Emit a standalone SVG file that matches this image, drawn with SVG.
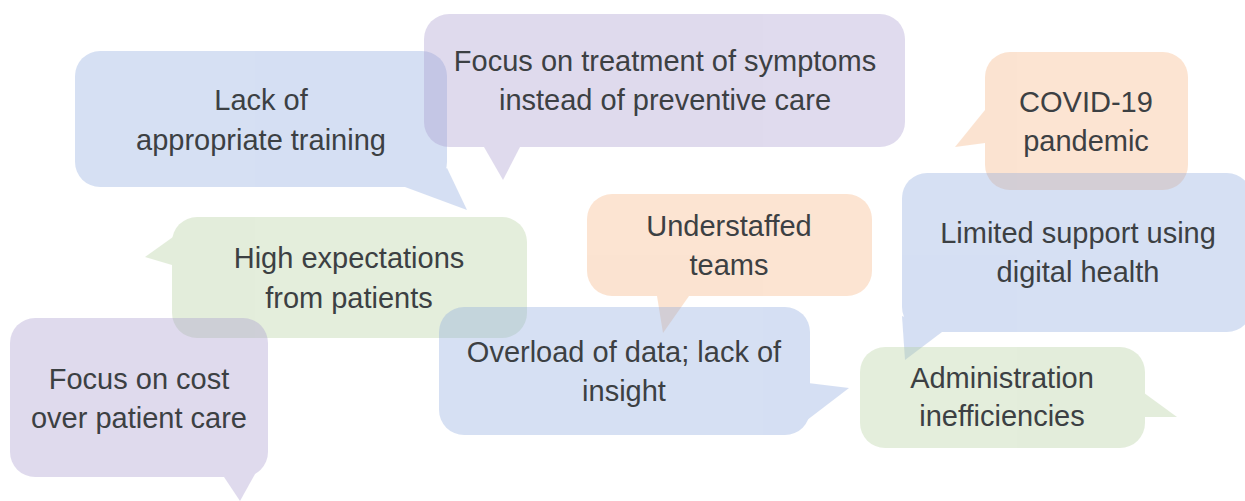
<svg xmlns="http://www.w3.org/2000/svg" width="1245" height="501" viewBox="0 0 1245 501">
<style>
  .b { opacity: 0.35; }
  .blue { fill: #8aa6dd; }
  .purple { fill: #a698ce; }
  .green { fill: #b2ce9b; }
  .orange { fill: #f6b27e; }
  text { font-family: "Liberation Sans", Arial, sans-serif; font-size: 29px; fill: #3c4043; text-anchor: middle; }
</style>
<rect width="1245" height="501" fill="#ffffff"/>
<g id="connectors"></g>

<g id="node-training">
  <g class="b blue"><rect x="75" y="51" width="372" height="136" rx="25"/><polygon points="405,187 467,210 447,168"/></g>
  <text x="261" y="110">Lack of</text>
  <text x="261" y="150">appropriate training</text>
</g>

<g id="node-symptoms">
  <g class="b purple"><rect x="424" y="14" width="481" height="133" rx="25"/><polygon points="484,147 503,180 520,147"/></g>
  <text x="665" y="71">Focus on treatment of symptoms</text>
  <text x="665" y="110">instead of preventive care</text>
</g>

<g id="node-covid">
  <g class="b orange"><rect x="985" y="52" width="203" height="138" rx="25"/><polygon points="985,110 955,147 985,143"/></g>
  <text x="1086" y="112">COVID-19</text>
  <text x="1086" y="151">pandemic</text>
</g>

<g id="node-digital">
  <g class="b blue"><rect x="902" y="173" width="350" height="159" rx="25"/><polygon points="902,316 905,360 942,332"/></g>
  <text x="1078" y="243">Limited support using</text>
  <text x="1078" y="282">digital health</text>
</g>

<g id="node-expectations">
  <g class="b green"><rect x="172" y="217" width="355" height="121" rx="25"/><polygon points="180,232 145,257 172,265"/></g>
  <text x="349" y="268">High expectations</text>
  <text x="349" y="308">from patients</text>
</g>

<g id="node-cost">
  <g class="b purple"><rect x="10" y="318" width="258" height="159" rx="25"/><polygon points="224,477 240,501 260,465"/></g>
  <text x="139" y="389">Focus on cost</text>
  <text x="139" y="428">over patient care</text>
</g>

<g id="node-understaffed">
  <g class="b orange"><rect x="587" y="194" width="285" height="102" rx="25"/><polygon points="657,296 663,333 689,296"/></g>
  <text x="729" y="236">Understaffed</text>
  <text x="729" y="275">teams</text>
</g>

<g id="node-overload">
  <g class="b blue"><rect x="439" y="307" width="371" height="128" rx="25"/><polygon points="808,383 849,388 798,427"/></g>
  <text x="624" y="362">Overload of data; lack of</text>
  <text x="624" y="401">insight</text>
</g>

<g id="node-admin">
  <g class="b green"><rect x="860" y="347" width="285" height="101" rx="25"/><polygon points="1140,390 1177,417 1140,417"/></g>
  <text x="1002" y="388">Administration</text>
  <text x="1002" y="426">inefficiencies</text>
</g>
</svg>
